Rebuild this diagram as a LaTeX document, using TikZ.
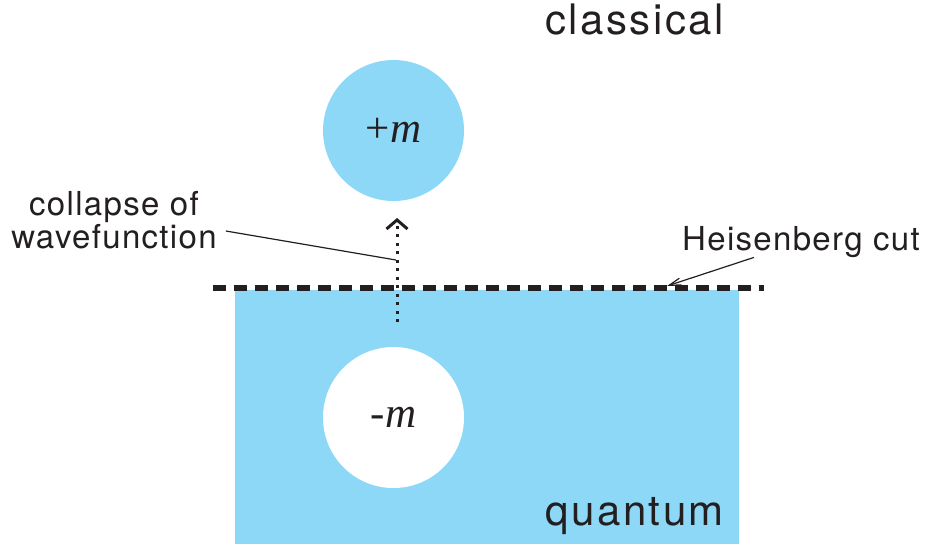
\documentclass[tikz,border=0pt]{standalone}
\usepackage{fontspec}
\setmainfont{TeX Gyre Heros}
\newfontfamily\labelfont[LetterSpace=6]{TeX Gyre Heros}
\newfontfamily\notefont[LetterSpace=4]{TeX Gyre Heros}
\newfontfamily\symfont{Liberation Serif}
\usetikzlibrary{arrows.meta}
\definecolor{qblue}{RGB}{141,216,246}
\definecolor{ink}{RGB}{35,31,32}

\begin{document}
\begin{tikzpicture}[x=1pt,y=-1pt,state/.style={circle,minimum size=141pt,inner sep=0pt,text=ink,font=\symfont\fontsize{43}{50}\selectfont},region/.style={font=\labelfont\fontsize{42}{50}\selectfont,text=ink,inner sep=0pt,anchor=base west},note/.style={font=\notefont\fontsize{33}{29}\selectfont,text=ink,inner sep=0pt},cut/.style={draw=ink,line width=6pt,dash pattern=on 13pt off 8pt},collapse/.style={draw=ink,line width=3pt,dash pattern=on 3pt off 5.5pt,-{Straight Barb[length=9pt,width=21pt]}},pointer/.style={draw=ink,line width=1.2pt}]
\useasboundingbox (0,0) rectangle (925,544);
\coordinate (L) at (213,288);
\coordinate (R) at (764,288);
\coordinate (S) at (397,322);
\coordinate (T) at (397,218);
\coordinate (K) at (396,260);
\coordinate (H) at (667,286);
\fill[qblue] (235,290) rectangle (739,544);
\node[state,fill=qblue] (plus) at (393.5,130.5) {+{\itshape m}};
\node[state,fill=white] (minus) at (393.5,417.5) {{\itshape -m}};
\node[region] (classical) at (545,34) {classical};
\node[region] (quantum) at (545,525) {quantum};
\node[note,align=center] (collapse) at (114,220) {collapse of\\wavefunction};
\node[note,anchor=base west] (heis) at (682,250) {Heisenberg cut};
\draw[cut] (L) -- (R);
\draw[collapse] (S) -- (T);
\draw[pointer] ([shift={(9,11)}]collapse.east) -- (K);
\draw[pointer,-{Straight Barb[length=12pt,width=7pt]}] ([xshift=-47pt]heis.south) -- (H);
\end{tikzpicture}
\end{document}
